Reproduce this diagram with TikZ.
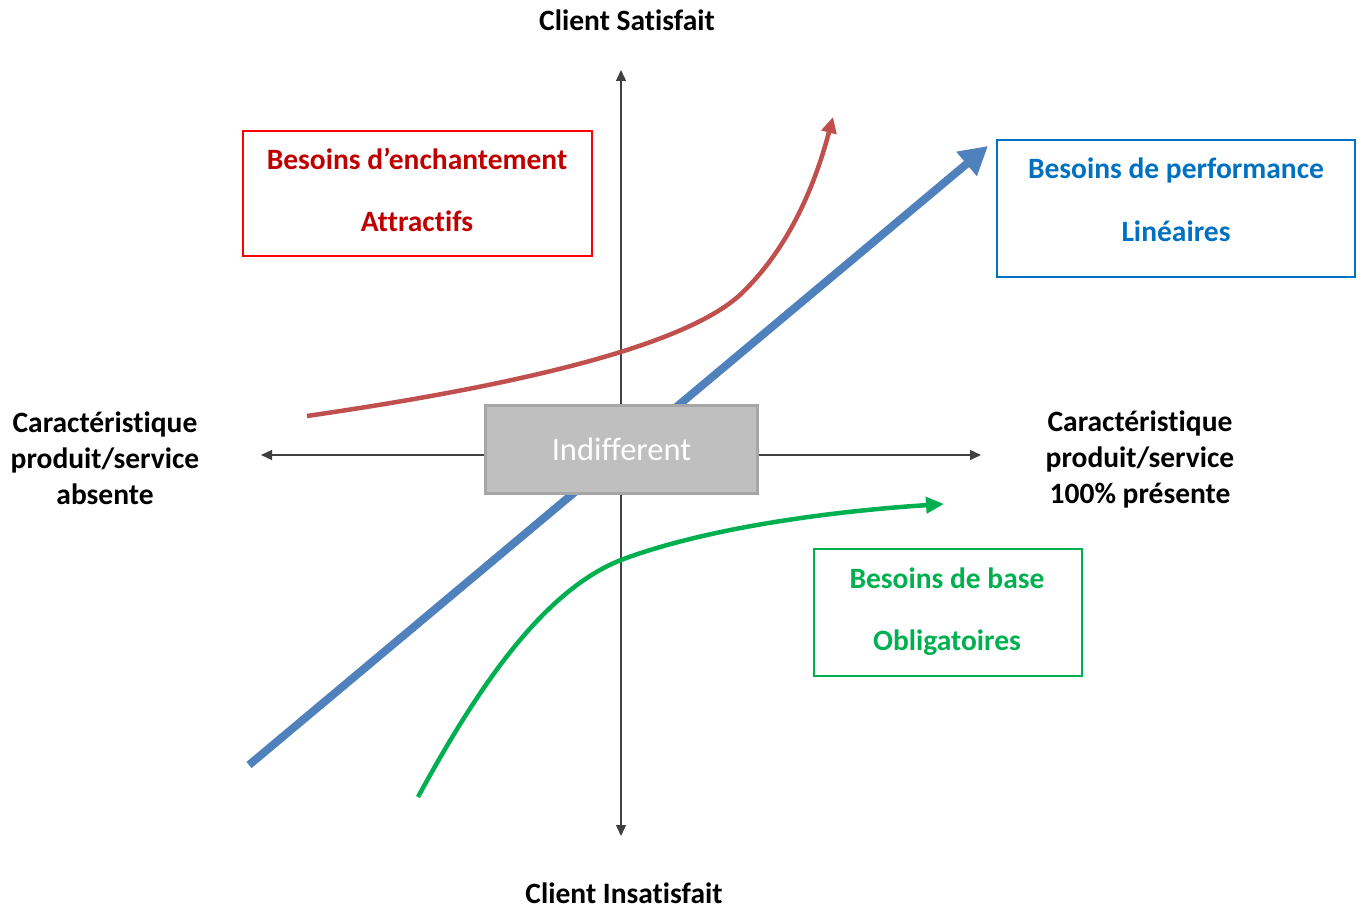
\documentclass[tikz,border=0pt]{standalone}
\usepackage{fontspec}
\setmainfont[Ligatures=CommonOff]{Carlito}
\usetikzlibrary{arrows.meta}
\definecolor{axisgray}{HTML}{404040}
\definecolor{boxfill}{HTML}{BFBFBF}
\definecolor{boxline}{HTML}{A6A6A6}
\definecolor{redtxt}{HTML}{C00000}
\definecolor{redline}{HTML}{FF0000}
\definecolor{redcurve}{HTML}{C0504D}
\definecolor{bluetxt}{HTML}{0070C0}
\definecolor{bluearrow}{HTML}{4F81BD}
\definecolor{greentxt}{HTML}{00B050}
\tikzset{
  axis/.style={draw=axisgray, line width=1.3pt, -{Triangle[length=11pt,width=10pt]}},
  catbox/.style={draw, line width=2pt, inner sep=0pt},
  cattext/.style={inner sep=0pt, text height=19pt, text depth=0pt, font=\fontsize{29.5}{36}\selectfont\bfseries},
  axlabel/.style={font=\fontsize{29.5}{36}\selectfont\bfseries, align=center, text=black},
}
\begin{document}
\begin{tikzpicture}[x=1pt, y=-1pt]
\useasboundingbox (0,0) rectangle (1363,909);

% axes
\coordinate (top) at (621,70);
\coordinate (bottom) at (621,836);
\coordinate (left) at (261,455);
\coordinate (right) at (981,455);
\coordinate (centre) at (621,455);
\draw[axis] (centre) -- (top);
\draw[axis] (centre) -- (bottom);
\draw[axis] (centre) -- (left);
\draw[axis] (centre) -- (right);

% performance line
\coordinate (bstart) at (249,765);
\coordinate (bend) at (988,146);
\draw[bluearrow, line width=8pt, -{Triangle[length=28pt,width=30pt]}] (bstart) -- (bend);

% indifferent zone
\node[fill=boxfill, draw=boxline, line width=3pt, minimum width=272pt, minimum height=88pt,
      text=white, font=\fontsize{32.5}{38}\selectfont] (indiff) at (621.5,449.5) {Indifferent};

% attractive curve
\coordinate (rstart) at (307,416);
\coordinate (rmid) at (745,290);
\coordinate (rend) at (833,117);
\draw[redcurve, line width=4.5pt, -{Triangle[length=16pt,width=15pt]}]
  (rstart) .. controls (500,388) and (690,348) .. (rmid)
           .. controls (790,245) and (815,185) .. (rend);

% mandatory curve
\coordinate (gstart) at (418,797);
\coordinate (gmid) at (621,560);
\coordinate (gend) at (944,504);
\draw[greentxt, line width=4.5pt, -{Triangle[length=18pt,width=16pt]}]
  (gstart) .. controls (480,683) and (545,590) .. (gmid)
           .. controls (700,530) and (820,512) .. (gend);

% category boxes
\node[catbox, minimum width=349pt, minimum height=125pt, draw=redline] (attr) at (417.5,193.5) {};
\node[cattext, text=redtxt] (attr1) at (417,160) {Besoins d’enchantement};
\node[cattext, text=redtxt] (attr2) at (417,222) {Attractifs};

\node[catbox, minimum width=358pt, minimum height=137pt, draw=bluetxt] (perf) at (1176,208.5) {};
\node[cattext, text=bluetxt] (perf1) at (1176,169) {Besoins de performance};
\node[cattext, text=bluetxt] (perf2) at (1176,232) {Linéaires};

\node[catbox, minimum width=268pt, minimum height=127pt, draw=greentxt] (base) at (948,612.5) {};
\node[cattext, text=greentxt] (base1) at (947,579) {Besoins de base};
\node[cattext, text=greentxt] (base2) at (947,641) {Obligatoires};

% axis labels
\node[axlabel] (sat) at (627,20) {Client Satisfait};
\node[axlabel] (insat) at (624,893) {Client Insatisfait};
\node[axlabel] (absent) at (105,458) {Caractéristique\\produit/service\\absente};
\node[axlabel] (present) at (1140,459) {Caractéristique\\produit/service\\100\% présente};
\end{tikzpicture}
\end{document}
